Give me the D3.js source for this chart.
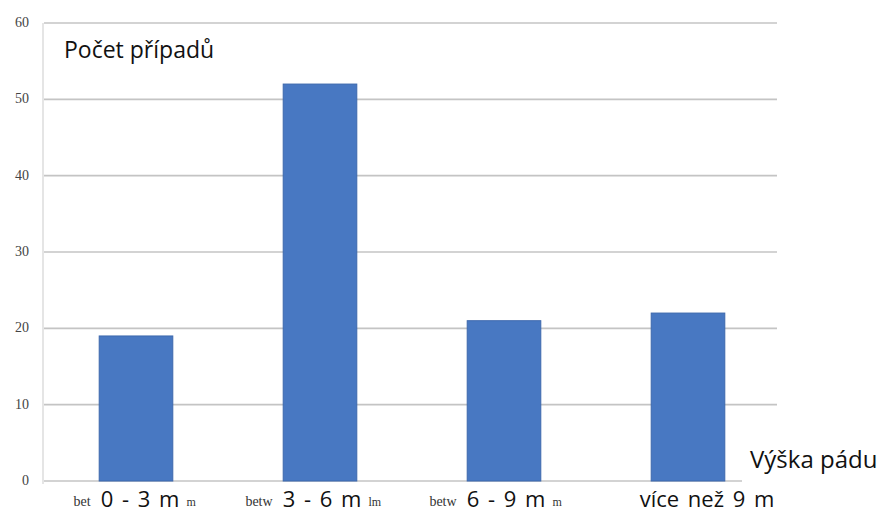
<!DOCTYPE html>
<html><head><meta charset="utf-8">
<script src="https://cdn.jsdelivr.net/npm/d3@7"></script>
<style>body{margin:0;background:#fff}svg{display:block}</style>
</head><body>
<svg id="c" width="879" height="513"></svg>
<script>
const categories = ["0 - 3 m", "3 - 6 m", "6 - 9 m", "více než 9 m"];
const values = [19, 52, 21, 22];
const prefixes = ["bet", "betw", "betw", ""];
const suffixes = ["m", "lm", "m", ""];
const yTicks = [0, 10, 20, 30, 40, 50, 60];
const yTitle = "Počet případů";
const xTitle = "Výška pádu";

const svg = d3.select("#c");
const m = {left: 44, right: 780, top: 23, bottom: 481};
const x = d3.scaleBand().domain(categories).range([m.left, m.right]).paddingInner(0.6).paddingOuter(0.3);
const y = d3.scaleLinear().domain([0, 60]).range([m.bottom, m.top]);

// gridlines
svg.append("g").selectAll("line").data(yTicks.filter(d => d > 0)).join("line")
  .attr("x1", m.left).attr("x2", 777)
  .attr("y1", d => y(d)).attr("y2", d => y(d))
  .attr("stroke", "#c4c4c4").attr("stroke-width", 1.6);
// baseline
svg.append("line").attr("x1", m.left).attr("x2", 742).attr("y1", y(0)).attr("y2", y(0))
  .attr("stroke", "#c4c4c4").attr("stroke-width", 1.6);
// left axis line
svg.append("line").attr("x1", 43).attr("x2", 43).attr("y1", y(60)).attr("y2", y(0) + 3)
  .attr("stroke", "#dcdcdc").attr("stroke-width", 1.5);

// y tick labels
svg.append("g").selectAll("text").data(yTicks).join("text")
  .attr("x", 29).attr("y", d => y(d) + 4)
  .attr("text-anchor", "end")
  .attr("font-family", "Liberation Serif, serif").attr("font-size", 14)
  .attr("fill", "#444").text(d => d);

// bars
svg.append("g").selectAll("rect").data(values).join("rect")
  .attr("x", (d, i) => x(categories[i]))
  .attr("width", x.bandwidth())
  .attr("y", d => y(d))
  .attr("height", d => y(0) - y(d))
  .attr("fill", "#4878c2").attr("stroke", "#3d68ad").attr("stroke-width", 1);

// category labels
const labelShift = [4, 2, 2, 19];
categories.forEach((c, i) => {
  const cx = x(c) + x.bandwidth() / 2 + labelShift[i];
  const t = svg.append("text").attr("x", cx).attr("y", 507)
    .attr("text-anchor", "middle")
    .attr("font-family", "Open Sans, sans-serif").attr("font-size", 22)
    .attr("word-spacing", 3)
    .attr("fill", "#111").text(c);
  const bb = t.node().getBBox();
  if (prefixes[i]) svg.append("text").attr("x", bb.x - 10).attr("y", 506)
    .attr("text-anchor", "end").attr("font-family", "Liberation Serif, serif")
    .attr("font-size", 14).attr("fill", "#333").text(prefixes[i]);
  if (suffixes[i]) svg.append("text").attr("x", bb.x + bb.width + 7).attr("y", 506)
    .attr("font-family", "Liberation Serif, serif")
    .attr("font-size", 12).attr("fill", "#333").text(suffixes[i]);
});

// titles
svg.append("text").attr("x", 64).attr("y", 58)
  .attr("font-family", "Open Sans, sans-serif").attr("font-size", 23)
  .attr("fill", "#111").text(yTitle);
svg.append("text").attr("x", 750).attr("y", 468)
  .attr("font-family", "Open Sans, sans-serif").attr("font-size", 24)
  .attr("fill", "#111").text(xTitle);
</script>
</body></html>
